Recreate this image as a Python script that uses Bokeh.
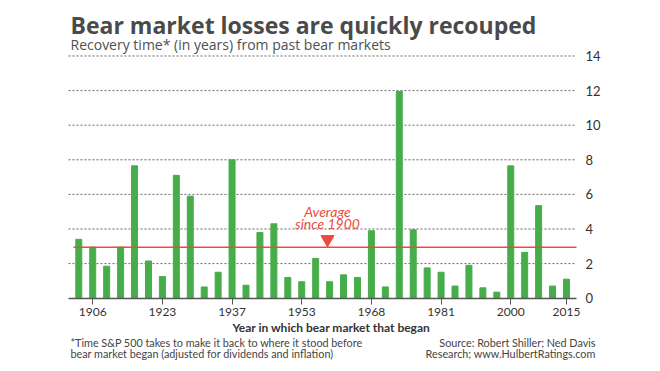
from bokeh.plotting import figure
from bokeh.models import Label, FixedTicker
from bokeh.embed import file_html
from bokeh.resources import INLINE

# ---- data ----
bar_index = list(range(36))
recovery_years = [3.4, 2.95, 1.85, 2.95, 7.65, 2.15, 1.25, 7.1, 5.9, 0.65,
                  1.5, 8.0, 0.75, 3.8, 4.3, 1.2, 0.95, 2.3, 0.95, 1.35,
                  1.2, 3.9, 0.65, 11.95, 3.95, 1.75, 1.5, 0.7, 1.9, 0.6,
                  0.35, 7.65, 2.65, 5.35, 0.7, 1.1]
tick_positions = [1, 6, 11, 16, 21, 26, 31, 35]
tick_labels = ["1906", "1923", "1937", "1953", "1968", "1981", "2000", "2015"]
y_ticks = [0, 2, 4, 6, 8, 10, 12, 14]
average_value = 2.95
average_marker_x = [17.85]
average_marker_y = [3.4]

FONT = "Lato"
GREEN = "#47ad4b"
RED = "#ec4a3f"
DARK = "#4a4a4a"

W, H = 656, 368
# plot area limits in data units
X_LEFT, X_RIGHT = -0.74, 35.72

p = figure(width=W, height=H, x_range=(-5.619, 41.46), y_range=(-4.064, 17.208),
           y_axis_location="right",
           output_backend="svg", toolbar_location=None,
           min_border_left=0, min_border_right=0, min_border_top=0,
           min_border_bottom=0)
p.outline_line_color = None
p.background_fill_color = "white"
p.border_fill_color = "white"
p.xgrid.visible = False
p.ygrid.visible = False

# dotted horizontal grid lines from the y tick list
grid_y = [v for v in y_ticks if v > 0]
p.segment(x0=[X_LEFT] * len(grid_y), x1=[X_RIGHT] * len(grid_y), y0=grid_y, y1=grid_y,
          line_color="#666666", line_dash="2 2", line_width=1)

p.vbar(x=bar_index, top=recovery_years, width=0.43, color=GREEN)
p.line(x=[-0.38, X_RIGHT], y=[average_value, average_value], line_color=RED, line_width=1.5)
p.scatter(x=average_marker_x, y=average_marker_y, marker="inverted_triangle",
          size=13, color=RED)

# y axis (on the right edge of the plot area)
ya = p.yaxis[0]
ya.fixed_location = X_RIGHT
ya.ticker = FixedTicker(ticks=y_ticks)
ya.axis_line_color = None
ya.major_tick_line_color = None
ya.minor_tick_line_color = None
ya.major_label_standoff = 3
ya.major_label_text_font = FONT
ya.major_label_text_font_size = "13px"
ya.major_label_text_color = "#333333"

# x axis at y = 0
xa = p.xaxis[0]
xa.fixed_location = 0
xa.bounds = (X_LEFT, X_RIGHT)
xa.ticker = FixedTicker(ticks=tick_positions)
xa.major_label_overrides = {t: l for t, l in zip(tick_positions, tick_labels)}
xa.axis_line_color = "#555555"
xa.axis_line_width = 1.5
xa.major_tick_line_color = "#555555"
xa.major_tick_out = 6
xa.major_tick_in = 0
xa.minor_tick_line_color = None
xa.major_label_standoff = 4
xa.major_label_text_font = FONT
xa.major_label_text_font_size = "12px"
xa.major_label_text_color = "#333333"


def lab(text, x, y, size, color=DARK, style="normal", align="left", font=FONT):
    # x, y: pixel position (from top-left of the page), baseline of text
    p.add_layout(Label(x=x, y=H - y, x_units="screen", y_units="screen", text=text,
                       text_font=font, text_font_size=size, text_font_style=style,
                       text_color=color, text_align=align, text_baseline="alphabetic"))


lab("Bear market losses are quickly recouped", 70, 24.5, "23px", "#4a4a4a", "bold", font="Open Sans")
lab("Recovery time* (in years) from past bear markets", 70, 44, "14px", "#505050", font="Open Sans")
lab("Year in which bear market that began", 331, 326.5, "12px", "#333333", "bold", "center")
lab("*Time S&P 500 takes to make it back to where it stood before", 70, 341.5, "10.8px", "#444444")
lab("bear market began (adjusted for dividends and inflation)", 70, 352.5, "10.8px", "#444444")
lab("Source: Robert Shiller; Ned Davis", 595, 341.5, "10.8px", "#444444", align="right")
lab("Research; www.HulbertRatings.com", 595, 352.5, "10.8px", "#444444", align="right")
lab("Average", 327, 211, "14px", RED, "italic", "center")
lab("since 1900", 327, 223, "14px", RED, "italic", "center")

open("out.html", "w").write(file_html(p, INLINE))
